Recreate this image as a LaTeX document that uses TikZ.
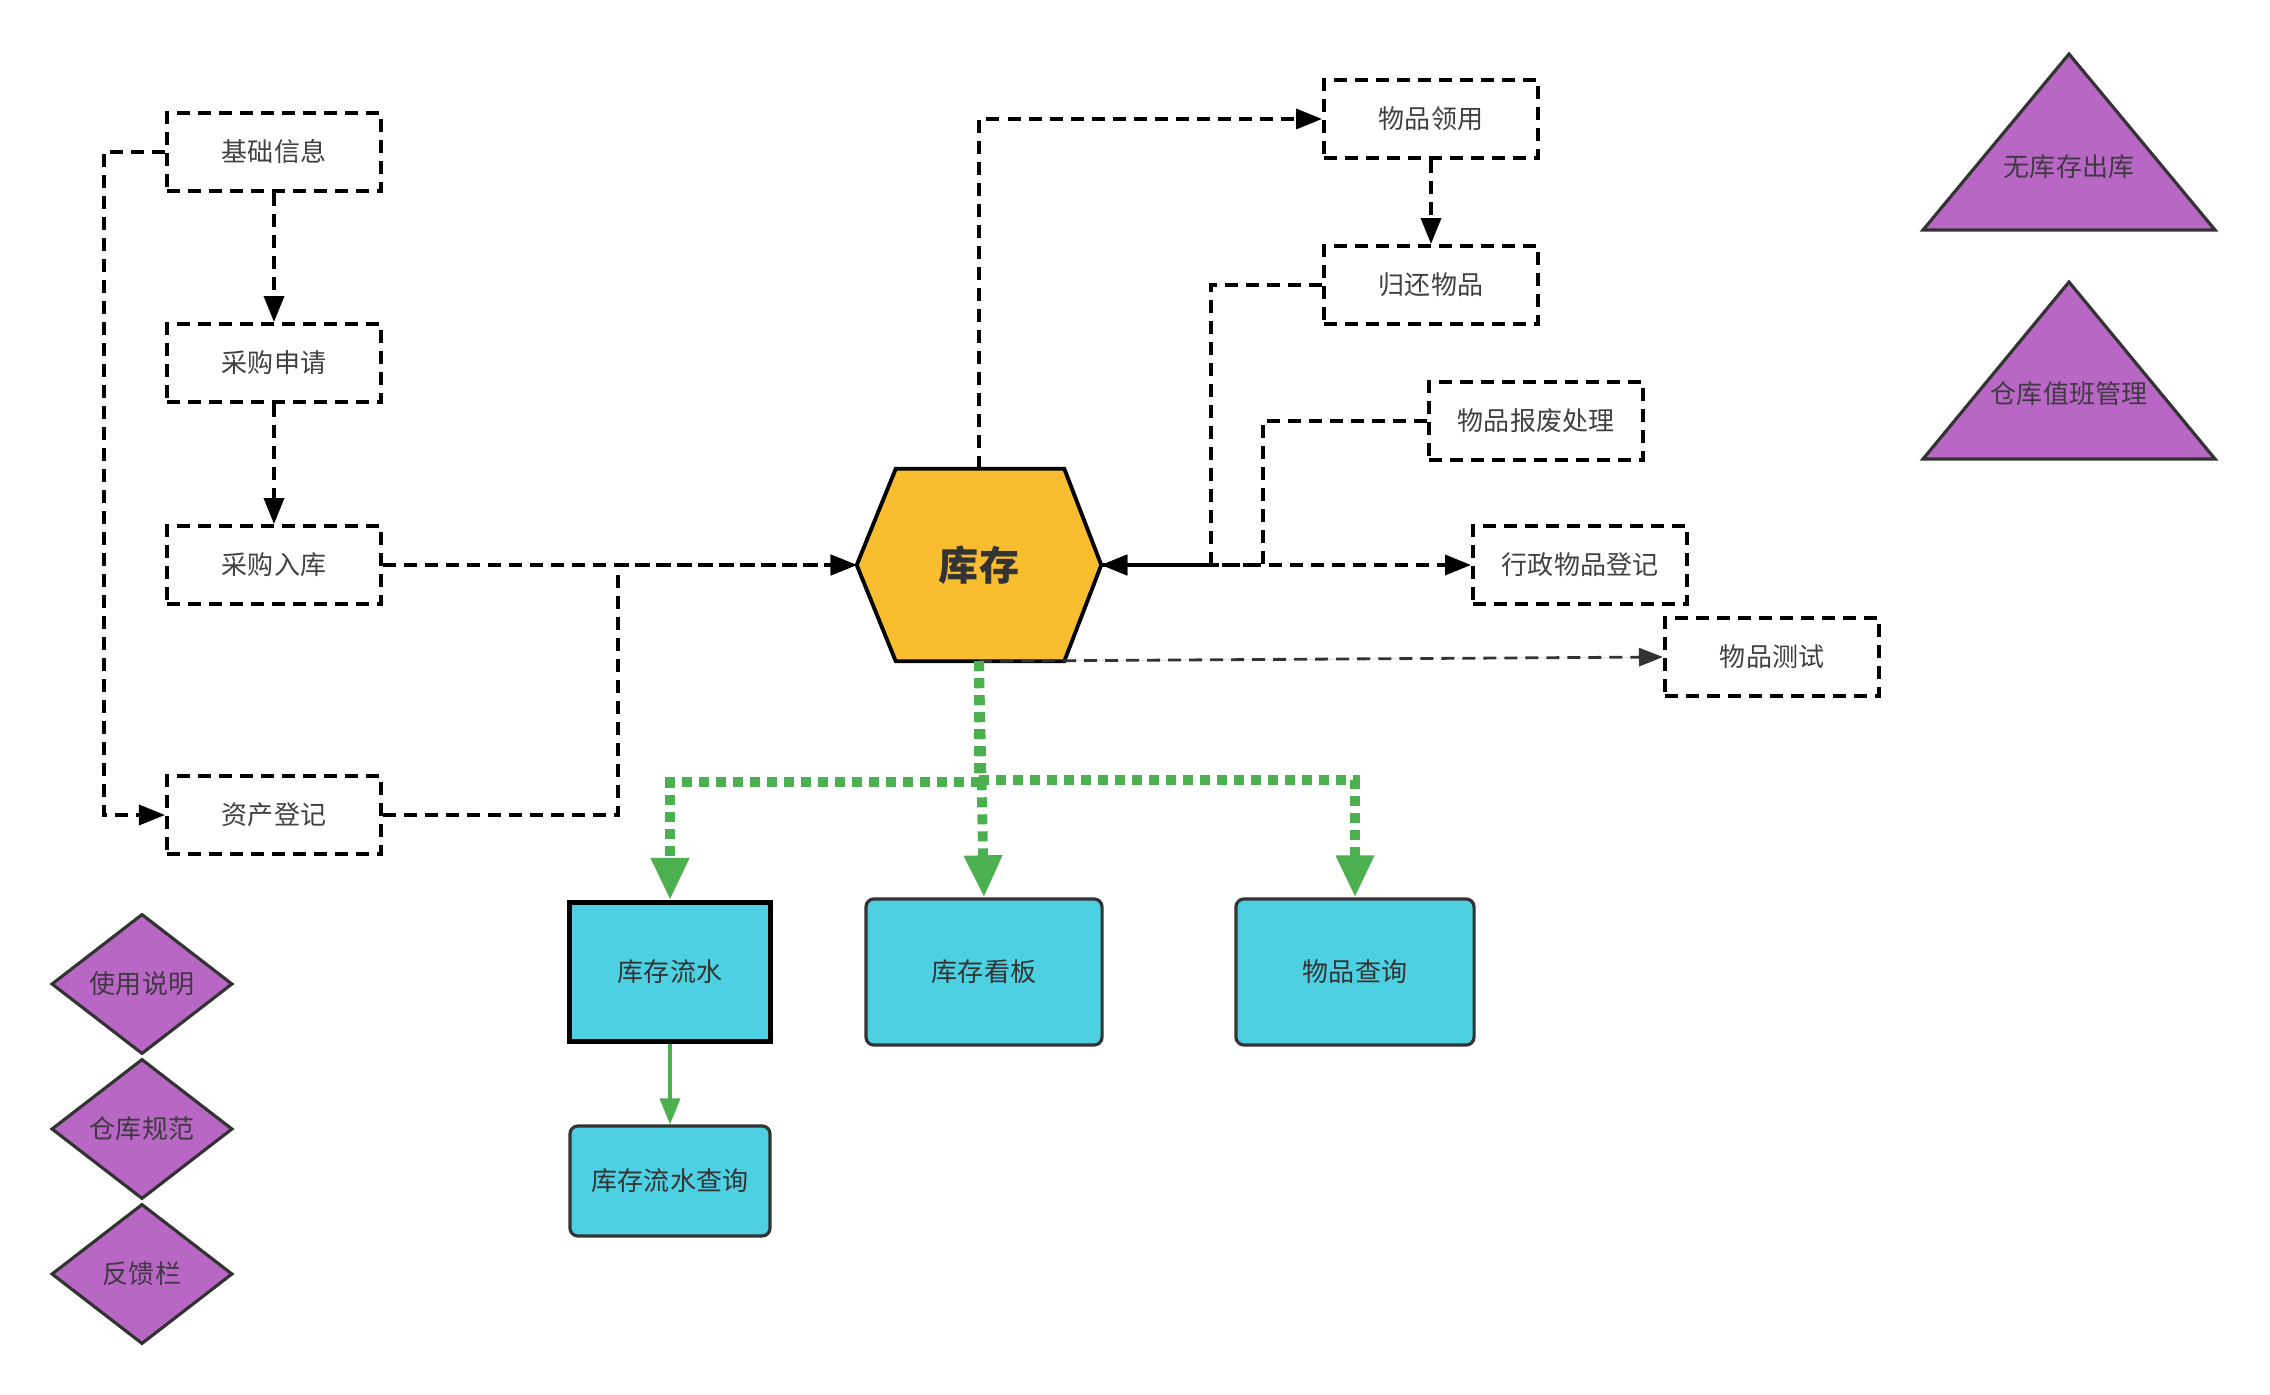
\documentclass[tikz,border=0pt]{standalone}
\usepackage{fontspec}
\setmainfont{Noto Sans CJK SC}
\usetikzlibrary{arrows.meta,shapes.geometric,backgrounds}

\definecolor{hexyellow}{HTML}{F9BE30}
\definecolor{tilecyan}{HTML}{4DD0E1}
\definecolor{tripurple}{HTML}{B868C4}
\definecolor{flowgreen}{HTML}{4CAF50}
\definecolor{edgegray}{HTML}{333333}

\tikzstyle{dbox}=[draw=black,line width=1.1pt,dash pattern=on 0.13cm off 0.08cm,minimum width=2.14cm,minimum height=0.78cm,text=black!75,font=\fontsize{7.4pt}{9pt}\selectfont]
\tikzstyle{dline}=[draw=black,line width=1pt,dash pattern=on 0.13cm off 0.08cm,-{Triangle[length=0.26cm,width=0.2cm]}]
\tikzstyle{gline}=[draw=flowgreen,line width=2.8pt,dash pattern=on 0.1cm off 0.07cm,-{Triangle[length=0.42cm,width=0.36cm]}]
\tikzstyle{cbox}=[draw=edgegray,fill=tilecyan,line width=0.9pt,rounded corners=0.08cm,text=black!80,font=\fontsize{7.4pt}{9pt}\selectfont]
\tikzstyle{purp}=[draw=edgegray,fill=tripurple,line width=0.9pt]
\tikzstyle{ptext}=[text=edgegray!90!tripurple,font=\fontsize{7.4pt}{9pt}\selectfont]

\begin{document}
\begin{tikzpicture}[x=0.01cm,y=-0.01cm]

   \useasboundingbox (0,0) rectangle (2270,1395);

   % Purchase chain

   \node[dbox] (jc) at (274,152) {基础信息};
   \node[dbox] (cs) at (274,363) {采购申请};
   \node[dbox] (rk) at (274,565) {采购入库};
   \node[dbox] (zc) at (274,815) {资产登记};

   % Stock hexagon

   \node[minimum width=2.43cm,minimum height=1.91cm,text=edgegray,font=\fontsize{11.4pt}{13pt}\selectfont\bfseries] (kc) at (979,565) {库存};
   \begin{scope}[on background layer]
   \filldraw[fill=hexyellow,draw=black,line width=1.1pt] (kc.west) -- ([xshift=0.39cm]kc.north west) -- ([xshift=-0.37cm]kc.north east) -- (kc.east) -- ([xshift=-0.37cm]kc.south east) -- ([xshift=0.39cm]kc.south west) -- cycle;
   \end{scope}

   % Item handling

   \node[dbox] (ly) at (1431,119) {物品领用};
   \node[dbox] (gh) at (1431,285) {归还物品};
   \node[dbox] (bf) at (1536,421) {物品报废处理};
   \node[dbox] (xz) at (1580,565) {行政物品登记};
   \node[dbox] (ws) at (1772,657) {物品测试};

   % Query tiles

   \node[cbox,draw=black,line width=1.4pt,rounded corners=0pt,minimum width=2.0cm,minimum height=1.39cm] (lsw) at (670,972) {库存流水};
   \node[cbox,minimum width=2.36cm,minimum height=1.46cm] (kb) at (984,972) {库存看板};
   \node[cbox,minimum width=2.38cm,minimum height=1.46cm] (wc) at (1355,972) {物品查询};
   \node[cbox,minimum width=2.0cm,minimum height=1.10cm] (lcx) at (670,1181) {库存流水查询};

   % Triangles

   \draw[purp] (2069,54) -- (2215,230) -- (1923,230) -- cycle;
   \node[ptext] (wck) at (2069,167) {无库存出库};
   \draw[purp] (2069,282) -- (2215,459) -- (1923,459) -- cycle;
   \node[ptext] (zb) at (2069,394) {仓库值班管理};

   % Diamonds

   \node[purp,ptext,diamond,inner sep=0pt,minimum width=1.81cm,minimum height=1.40cm] (sm) at (142,984) {使用说明};
   \node[purp,ptext,diamond,inner sep=0pt,minimum width=1.81cm,minimum height=1.40cm] (gf) at (142,1129) {仓库规范};
   \node[purp,ptext,diamond,inner sep=0pt,minimum width=1.81cm,minimum height=1.40cm] (fk) at (142,1274) {反馈栏};

   % Connectors

   \draw[dline] (jc.west) -- ++(-61,0) |- (zc.west);
   \draw[dline] (jc) -- (cs);
   \draw[dline] (cs) -- (rk);
   \draw[dline] (rk.east) -- (kc.west);
   \draw[dline] (zc.east) -- ++(235,0) |- (kc.west);

   \draw[dline] (kc.north) |- (ly.west);
   \draw[dline] (ly) -- (gh);
   \draw[dline] (gh.west) -- ++(-111,0) |- (kc.east);
   \draw[dline] (bf.west) -- ++(-164,0) |- (kc.east);
   \draw[dline] (kc.east) -- (xz.west);
   \draw[dline,draw=edgegray,line width=0.8pt,-{Triangle[length=0.24cm,width=0.18cm]},fill=edgegray] (kc.south) -- (ws.west);

   \draw[gline] (kc.south) -- ++(0,121) -| (lsw.north);
   \draw[gline] (kc.south) -- (kb.north);
   \draw[gline] (kc.south) -- ++(0,119) -| (wc.north);
   \draw[draw=flowgreen,line width=1.1pt,-{Triangle[length=0.26cm,width=0.2cm]}] (lsw) -- (lcx);

\end{tikzpicture}
\end{document}
